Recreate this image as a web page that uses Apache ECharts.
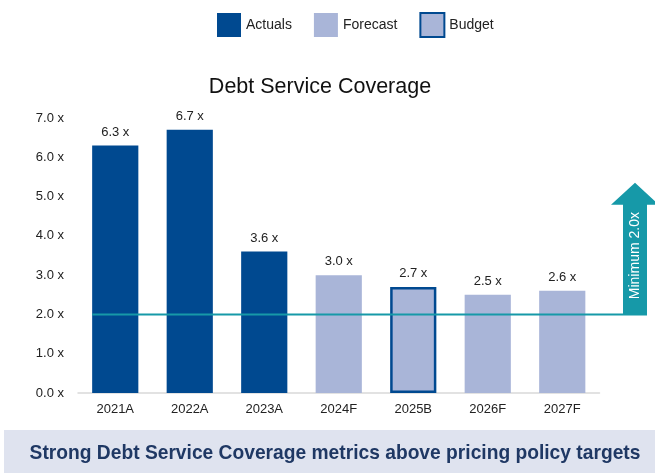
<!DOCTYPE html>
<html><head><meta charset="utf-8">
<script src="https://cdn.jsdelivr.net/npm/echarts@6/dist/echarts.min.js"></script>
<style>html,body{margin:0;padding:0;background:#fff}#c{width:655px;height:473px}</style>
</head><body><div id="c"></div>
<script>
const categories = ['2021A','2022A','2023A','2024F','2025B','2026F','2027F'];
const actuals  = [6.3, 6.7, 3.6, null, null, null, null];
const forecast = [null, null, null, 3.0, null, 2.5, 2.6];
const budget   = [null, null, null, null, 2.7, null, null];
const yTicks = [0,1,2,3,4,5,6,7];
const minimumTarget = 2.0;
const arrowTop = 5.35;
const bannerText = 'Strong Debt Service Coverage metrics above pricing policy targets';

const DARK = '#004990', LIGHT = '#a9b5d8', TEAL = '#1699a8';
const FONT = 'Liberation Sans, Arial, sans-serif';
const chart = echarts.init(document.getElementById('c'), null, {renderer:'canvas'});
const lbl = {show:true, position:'top', distance:7, color:'#222', fontSize:13, fontFamily:FONT,
  formatter: p => p.value == null ? '' : p.value.toFixed(1) + ' x'};
chart.setOption({
  animation:false,
  title:{text:'Debt Service Coverage', left:315, top:71, textAlign:'center',
    textStyle:{fontSize:21.5, fontWeight:'normal', color:'#111', fontFamily:FONT}},
  legend:{top:7, left:212, itemWidth:24, itemHeight:24, itemGap:22, icon:'rect',
    textStyle:{fontSize:14, color:'#222', fontFamily:FONT},
    data:['Actuals','Forecast','Budget']},
  grid:{left:78, right:55.5, top:118, bottom:80},
  xAxis:{type:'category', data:categories,
    axisLine:{lineStyle:{color:'#d9d9d9', width:1.5}}, axisTick:{show:false},
    axisLabel:{color:'#222', fontSize:13, fontFamily:FONT, margin:10}},
  yAxis:{type:'value', min:yTicks[0], max:yTicks[yTicks.length-1], interval:1,
    splitLine:{show:false}, axisLine:{show:false}, axisTick:{show:false},
    axisLabel:{color:'#222', fontSize:13, fontFamily:FONT, margin:14, formatter:v=>v.toFixed(1)+' x'}},
  series:[
    {name:'Actuals', type:'bar', stack:'s', barWidth:'62%', data:actuals,
      itemStyle:{color:DARK}, label:lbl},
    {name:'Forecast', type:'bar', stack:'s', barWidth:'62%', data:forecast,
      itemStyle:{color:LIGHT}, label:lbl},
    {name:'Budget', type:'bar', stack:'s', barWidth:'62%', data:budget,
      itemStyle:{color:LIGHT, borderColor:DARK, borderWidth:2.5}, label:lbl}
  ]
});

const y2 = chart.convertToPixel({yAxisIndex:0}, minimumTarget);
const yTop = chart.convertToPixel({yAxisIndex:0}, arrowTop);
const x0 = chart.convertToPixel({xAxisIndex:0}, categories[0]);
const bandW = chart.convertToPixel({xAxisIndex:0}, categories[1]) - x0;
const lineStart = x0 - bandW*0.31;
const shaftL = 623, shaftR = 647, headL = 611, headR = 659, headBase = yTop + 22;
chart.setOption({graphic:[
  {type:'line', shape:{x1:lineStart, y1:y2, x2:shaftL, y2:y2}, style:{stroke:TEAL, lineWidth:2}, z:10},
  {type:'polygon', shape:{points:[[shaftL,y2+1],[shaftL,headBase],[headL,headBase],[(shaftL+shaftR)/2,yTop],[headR,headBase],[shaftR,headBase],[shaftR,y2+1]]},
    style:{fill:TEAL}, z:10},
  {type:'text', x:(shaftL+shaftR)/2, y:(headBase+y2)/2 - 4, rotation:Math.PI/2,
    style:{text:'Minimum 2.0x', fill:'#fff', font:'14px '+FONT, align:'center', verticalAlign:'middle'}, z:11},
  {type:'rect', shape:{x:4, y:430, width:651, height:43}, style:{fill:'#dfe3ef'}, z:1},
  {type:'text', x:335, y:453, scaleX:0.915,
    style:{text:bannerText, fill:'#1f3864', font:'bold 21px "Liberation Sans", Arial, sans-serif', align:'center', verticalAlign:'middle'}, z:2}
]});
</script></body></html>
